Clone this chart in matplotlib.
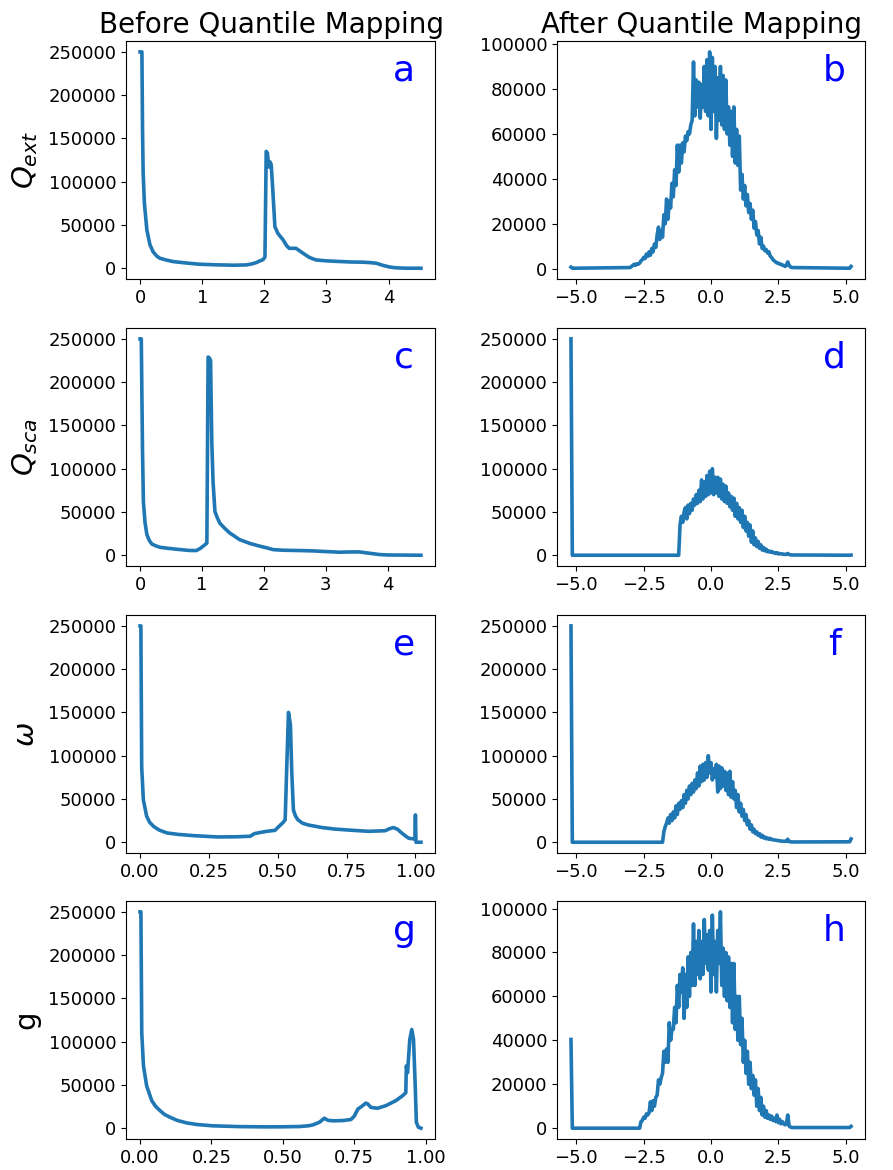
import numpy as np
import matplotlib
matplotlib.use("Agg")
import matplotlib.pyplot as plt

# ---- before quantile mapping (counts in thousands) ----
ext_x = [0, 0.03, 0.04, 0.05, 0.07, 0.11, 0.16, 0.21, 0.27, 0.32,
         0.42, 0.53, 0.75, 0.96, 1.2, 1.5, 1.71, 1.8, 1.87, 1.93,
         1.98, 2.01, 2.03, 2.05, 2.07, 2.09, 2.11, 2.13, 2.17, 2.22,
         2.3, 2.36, 2.4, 2.51, 2.57, 2.65, 2.73, 2.83, 3.0, 3.2,
         3.4, 3.58, 3.7, 3.8, 3.9, 4.01, 4.1, 4.17, 4.3, 4.52]
ext_y = [250, 250, 160, 110, 75, 44, 27, 19, 14, 11.5,
         9.5, 7.7, 6, 4.6, 4, 3.5, 3.8, 5, 6.5, 8.5,
         10, 13, 135, 133, 117, 123, 120, 98, 48, 40,
         33, 26, 23, 23, 20, 16, 12.3, 9.6, 8.5, 7.8,
         7.2, 7.0, 6.5, 5.8, 3.5, 1.5, 0.6, 0.3, 0, 0]

sca_x = [0, 0.02, 0.04, 0.054, 0.08, 0.11, 0.15, 0.19, 0.25, 0.32,
         0.45, 0.65, 0.8, 0.91, 0.97, 1.03, 1.08, 1.1, 1.12, 1.14,
         1.16, 1.18, 1.21, 1.25, 1.29, 1.37, 1.45, 1.61, 1.78, 1.94,
         2.05, 2.15, 2.3, 2.58, 2.8, 3.01, 3.23, 3.4, 3.55, 3.63,
         3.71, 3.87, 4.0, 4.54]
sca_y = [250, 250, 120, 62, 38, 24, 17, 13, 11, 9.2,
         8, 6.5, 5.5, 5.4, 7.7, 11, 14, 229, 228, 225,
         130, 85, 50.6, 43, 37, 31, 25.7, 18, 13.5, 10.4,
         8.5, 6.5, 5.8, 5.4, 5, 4.2, 3.5, 3.8, 3.8, 3.0,
         2.3, 0.8, 0.3, 0]

w_x = [0, 0.003, 0.006, 0.012, 0.024, 0.035, 0.049, 0.07, 0.098, 0.14,
       0.195, 0.28, 0.35, 0.40, 0.415, 0.44, 0.46, 0.49, 0.50, 0.52,
       0.527, 0.533, 0.539, 0.546, 0.551, 0.557, 0.565, 0.573, 0.59, 0.61,
       0.66, 0.707, 0.77, 0.83, 0.89, 0.905, 0.92, 0.935, 0.95, 0.965,
       0.976, 0.994, 0.998, 1.0, 1.002, 1.02]
w_y = [250, 250, 87, 49, 30, 23, 18.3, 14, 10.7, 9,
       7.6, 6.1, 6.3, 6.9, 9.9, 11.5, 12.6, 13.7, 17, 23,
       26, 90, 150, 136, 80, 37, 30, 26, 22, 20,
       17, 15.2, 13.8, 12.6, 13.3, 15.5, 17, 15, 10.7, 7,
       4.6, 3.8, 3.5, 31.6, 0, 0]

g_x = [0, 0.003, 0.006, 0.012, 0.023, 0.041, 0.055, 0.07, 0.085, 0.105,
       0.13, 0.163, 0.2, 0.256, 0.35, 0.44, 0.5, 0.558, 0.59, 0.605,
       0.628, 0.645, 0.655, 0.663, 0.68, 0.71, 0.738, 0.75, 0.762, 0.779,
       0.79, 0.797, 0.808, 0.831, 0.86, 0.895, 0.919, 0.93, 0.932, 0.936,
       0.944, 0.951, 0.957, 0.963, 0.967, 0.974, 0.983]
g_y = [250, 250, 110, 72, 49, 31.8, 25, 20.3, 16, 12.6,
       9, 6.1, 4.2, 2.7, 1.8, 1.5, 1.6, 1.9, 2.8, 3.8,
       6.9, 11.5, 9.5, 8.8, 8.5, 8.8, 10, 14, 22, 26,
       29, 28, 24, 23, 26, 31.8, 37.5, 41, 72, 64,
       102.6, 114, 102.6, 49, 6.9, 1.1, 0]

# ---- after quantile mapping: bins from -3.0 to 3.0 every 0.05 (thousands) ----
ext_qm = [0.5, 1.0, 1.5, 2.0, 1.5, 2.2, 2.0, 2.5, 3.5, 4.0,
          5.0, 4.5, 6.5, 5.5, 7.5, 6.0, 9.0, 7.5, 11.0, 9.5,
          15.0, 18.5, 13.0, 17.0, 14.0, 24.0, 20.0, 31.0, 22.0, 30.0,
          27.0, 38.0, 32.0, 44.0, 37.0, 55.0, 43.0, 55.0, 47.0, 56.0,
          52.0, 59.0, 57.0, 61.0, 60.0, 64.0, 66.0, 92.0, 68.0, 84.0,
          72.0, 83.0, 67.0, 82.0, 72.0, 90.0, 70.0, 93.0, 68.0, 96.5,
          62.0, 94.0, 70.0, 90.0, 58.0, 85.0, 66.0, 90.0, 64.0, 86.0,
          62.0, 84.0, 60.0, 72.0, 55.0, 70.0, 50.0, 72.0, 47.0, 62.0,
          46.0, 59.0, 35.0, 42.0, 31.0, 37.0, 28.0, 33.0, 25.0, 29.0,
          22.0, 26.0, 18.0, 21.0, 15.0, 17.0, 11.0, 14.0, 9.0, 10.0,
          8.0, 8.5, 7.0, 7.5, 5.5, 5.0, 4.0, 3.5, 3.0, 2.5,
          2.5, 2.0, 2.0, 1.5, 1.5, 1.0, 1.5, 3.0, 1.5, 0.8,
          0.5]
sca_qm = [0, 0, 0, 0, 0, 0, 0, 0, 0, 0,
          0, 0, 0, 0, 0, 0, 0, 0, 0, 0,
          0, 0, 0, 0, 0, 0, 0, 0, 0, 0,
          0, 0, 0, 0, 0, 0, 0, 35.0, 45.0, 38.0,
          50.0, 55.0, 42.0, 58.0, 48.0, 60.0, 52.0, 65.0, 58.0, 70.0,
          60.0, 75.0, 62.0, 87.0, 65.0, 85.0, 68.0, 92.0, 70.0, 97.0,
          72.0, 100.0, 70.0, 90.0, 72.0, 90.0, 68.0, 88.0, 65.0, 82.0,
          62.0, 80.0, 60.0, 72.0, 56.0, 68.0, 52.0, 66.0, 45.0, 60.0,
          42.0, 55.0, 38.0, 52.0, 32.0, 45.0, 28.0, 38.0, 22.0, 35.0,
          15.0, 28.0, 12.0, 20.0, 10.0, 16.0, 8.0, 12.0, 6.0, 9.0,
          5.0, 7.0, 4.0, 5.0, 3.5, 4.5, 3.0, 3.0, 2.0, 3.0,
          1.5, 2.0, 1.5, 1.5, 1.0, 1.0, 1.0, 2.0, 0.8, 0.5,
          0.3]
w_qm = [0, 0, 0, 0, 0, 0, 0, 0, 0, 0,
        0, 0, 0, 0, 0, 0, 0, 0, 0, 0,
        0, 0, 0, 0, 0, 12.0, 18.0, 22.0, 28.0, 22.0,
        32.0, 25.0, 35.0, 28.0, 42.0, 32.0, 45.0, 38.0, 48.0, 40.0,
        55.0, 45.0, 60.0, 50.0, 65.0, 55.0, 68.0, 58.0, 72.0, 62.0,
        80.0, 65.0, 88.0, 70.0, 90.0, 72.0, 92.0, 75.0, 100.0, 80.0,
        92.0, 72.0, 85.0, 75.0, 90.0, 58.0, 88.0, 62.0, 86.0, 65.0,
        82.0, 60.0, 80.0, 55.0, 82.0, 52.0, 70.0, 50.0, 60.0, 40.0,
        55.0, 35.0, 45.0, 30.0, 38.0, 25.0, 32.0, 20.0, 25.0, 15.0,
        20.0, 12.0, 15.0, 10.0, 12.0, 8.0, 10.0, 6.0, 8.0, 5.0,
        6.0, 4.0, 5.0, 3.5, 4.5, 3.0, 3.0, 2.5, 2.5, 2.0,
        2.0, 1.5, 1.5, 1.0, 1.2, 1.0, 1.0, 3.5, 0.8, 0.5,
        0.3]
g_qm = [0, 0, 0, 0, 0, 0, 0, 0, 3.0, 3.5,
        5.0, 4.5, 6.5, 6.0, 7.0, 12.0, 8.0, 12.5, 10.0, 14.0,
        15.0, 22.0, 20.0, 23.0, 25.0, 35.0, 30.0, 36.0, 30.0, 48.0,
        40.0, 45.0, 45.0, 55.0, 48.0, 65.0, 55.0, 70.0, 62.0, 73.0,
        50.0, 70.0, 55.0, 78.0, 60.0, 80.0, 65.0, 93.0, 65.0, 85.0,
        70.0, 90.0, 68.0, 85.0, 70.0, 95.0, 75.0, 88.0, 72.0, 90.0,
        62.0, 97.0, 70.0, 85.0, 62.0, 90.0, 75.0, 98.5, 65.0, 82.0,
        60.0, 80.0, 58.0, 78.0, 55.0, 75.0, 48.0, 75.0, 45.0, 60.0,
        40.0, 60.0, 38.0, 50.0, 30.0, 40.0, 25.0, 35.0, 20.0, 30.0,
        18.0, 24.0, 15.0, 22.0, 10.0, 18.0, 8.0, 14.0, 6.0, 10.0,
        5.0, 8.0, 4.5, 6.0, 4.0, 5.5, 3.5, 4.5, 3.0, 6.0,
        2.5, 4.0, 2.0, 3.0, 2.0, 1.5, 2.0, 6.0, 1.0, 0.5,
        0.3]

# values at the outer bins (-5.2, -5.15) and (5.15, 5.2)
qm_left = {"b": [0.7, 0.2], "d": [250, 0], "f": [250, 0], "h": [40.4, 0]}
qm_right = {"b": [0.2, 1.0], "d": [0, 0.2], "f": [0.5, 3.8], "h": [0.3, 0.8]}

ylabels = [r"$Q_{ext}$", r"$Q_{sca}$", r"$\omega$", "g"]
letters = [("a", "b"), ("c", "d"), ("e", "f"), ("g", "h")]

before = [(ext_x, ext_y), (sca_x, sca_y), (w_x, w_y), (g_x, g_y)]
after = [ext_qm, sca_qm, w_qm, g_qm]

qm_centres = np.linspace(-3.0, 3.0, 121)

fig = plt.figure(figsize=(8.93, 11.7), dpi=100)
color = "#1f77b4"
bottoms = [0.7615, 0.5162, 0.2709, 0.0265]
h = 0.2034

for i in range(4):
    axl = fig.add_axes([0.1411, bottoms[i], 0.346, h])
    axr = fig.add_axes([0.6237, bottoms[i], 0.345, h])

    bx, by = before[i]
    axl.plot(bx, np.array(by) * 1000, color=color, lw=2.6)

    la, lb = letters[i]
    x_full = np.concatenate([[-5.2, -5.15], qm_centres, [5.15, 5.2]])
    y_full = np.concatenate([qm_left[lb], after[i], qm_right[lb]]) * 1000
    axr.plot(x_full, y_full, color=color, lw=2.6)

    axl.set_ylabel(ylabels[i], fontsize=21, labelpad=6)
    if i >= 2:
        axl.set_xticks([0, 0.25, 0.5, 0.75, 1.0])
    axr.set_xticks([-5, -2.5, 0, 2.5, 5])

    for ax, lt in ((axl, la), (axr, lb)):
        ax.tick_params(labelsize=13)
        ax.text(0.9, 0.875, lt, transform=ax.transAxes, color="blue",
                fontsize=26, ha="center", va="center")

    if i == 0:
        axl.set_title("Before Quantile Mapping", fontsize=20, x=0.47)
        axr.set_title("After Quantile Mapping", fontsize=20, x=0.47)

fig.savefig("out.png", dpi=100)
